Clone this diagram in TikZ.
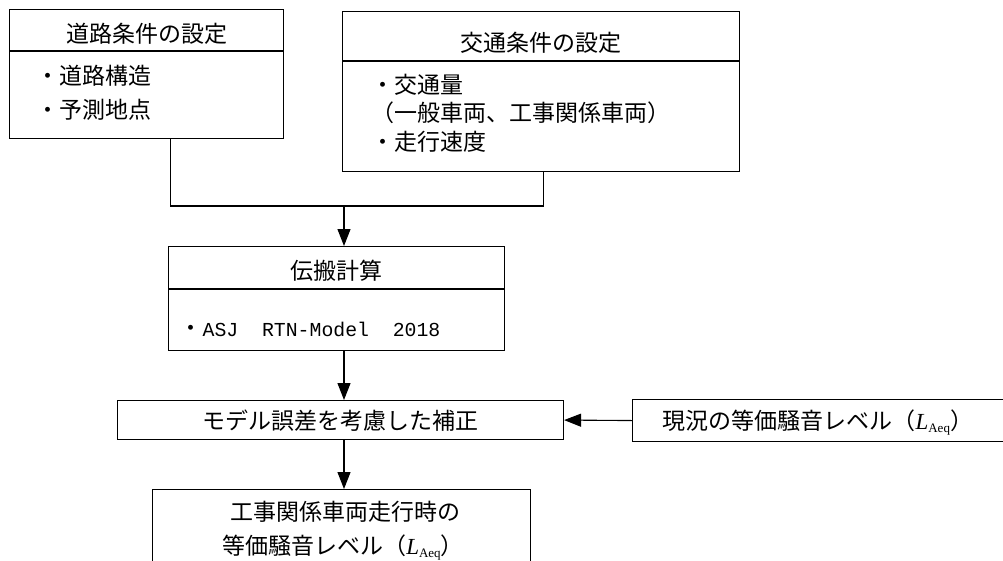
\documentclass[tikz,border=0pt]{standalone}
\usepackage{fontspec}
\setmainfont{Noto Sans CJK JP}
\newfontfamily\lat{Liberation Serif}
\newfontfamily\mono{Liberation Mono}
\usetikzlibrary{arrows.meta,positioning}
\newcommand\laeq{{\lat\itshape L}\raisebox{-3pt}{\fontsize{13}{13}\selectfont\lat Aeq}}

\begin{document}
\begin{tikzpicture}[
  x=1pt, y=-1pt,
  font=\fontsize{23}{28}\selectfont,
  frame/.style={
    draw=black,
    line width=1.1pt,
    inner sep=0pt,
    anchor=north west,
    text height=24pt,
    text depth=0pt
  },
  item/.style={inner sep=0pt, anchor=base west},
  line/.style={line width=1.1pt, draw=black},
  arrow/.style={line, -{Triangle[length=17pt, width=13pt]}}
]
\useasboundingbox (0,0) rectangle (1003,560);
\clip (0,0) rectangle (1003,560);
\fill[white] (0,0) rectangle (1003,560);

\node[frame, minimum width=274pt, minimum height=41pt] (h1) at (9,9) {道路条件の設定};
\node[frame, minimum width=274pt, minimum height=87pt] (b1) at (h1.south west) {};
\node[item] (i11) at (36.5,84.7) {・道路構造};
\node[item] (i12) at (36.5,118.7) {・予測地点};

\node[frame, minimum width=397pt, minimum height=49pt, text height=30.4pt] (h2) at (342,11) {交通条件の設定};
\node[frame, minimum width=397pt, minimum height=110pt] (b2) at (h2.south west) {};
\node[item] (i21) at (371,93.7) {・交通量};
\node[item] (i22) at (371,121.7) {（一般車両、工事関係車両）};
\node[item] (i23) at (371,150.7) {・走行速度};

\node[frame, minimum width=336pt, minimum height=42pt] (h3) at (168,246) {伝搬計算};
\node[frame, minimum width=336pt, minimum height=61pt] (b3) at (h3.south west) {};
\node[item] (i31) at (179.5,336.7) {・{\mono\fontsize{19.8}{24}\selectfont ASJ~~RTN-Model~~2018}};

\node[frame, minimum width=446pt, minimum height=39pt, text height=18.4pt] (fix) at (117,400) {モデル誤差を考慮した補正};
\node[frame, minimum width=400pt, minimum height=42pt, text height=17.4pt,
  text width=340pt, inner xsep=30pt, align=left] (now) at (632,399) {現況の等価騒音レベル（\laeq）};

\node[frame, minimum width=378pt, minimum height=110pt] (res) at (152,489) {};
\node[inner sep=0pt, anchor=base] (r1) at (345,520.7) {工事関係車両走行時の};
\node[inner sep=0pt, anchor=base] (r2) at (343,554.7) {等価騒音レベル（\laeq）};

\coordinate (j) at (344,206);
\draw[line] ([xshift=24pt]b1.south) |- ([xshift=2.5pt]b2.south |- j) -- ([xshift=2.5pt]b2.south);
\draw[arrow] (j) -- (j |- h3.north);
\draw[arrow] (b3.south -| j) -- (j |- fix.north);
\draw[arrow] (fix.south -| j) -- (j |- res.north);
\draw[arrow] (now.west) -- (fix.east);

\end{tikzpicture}
\end{document}
